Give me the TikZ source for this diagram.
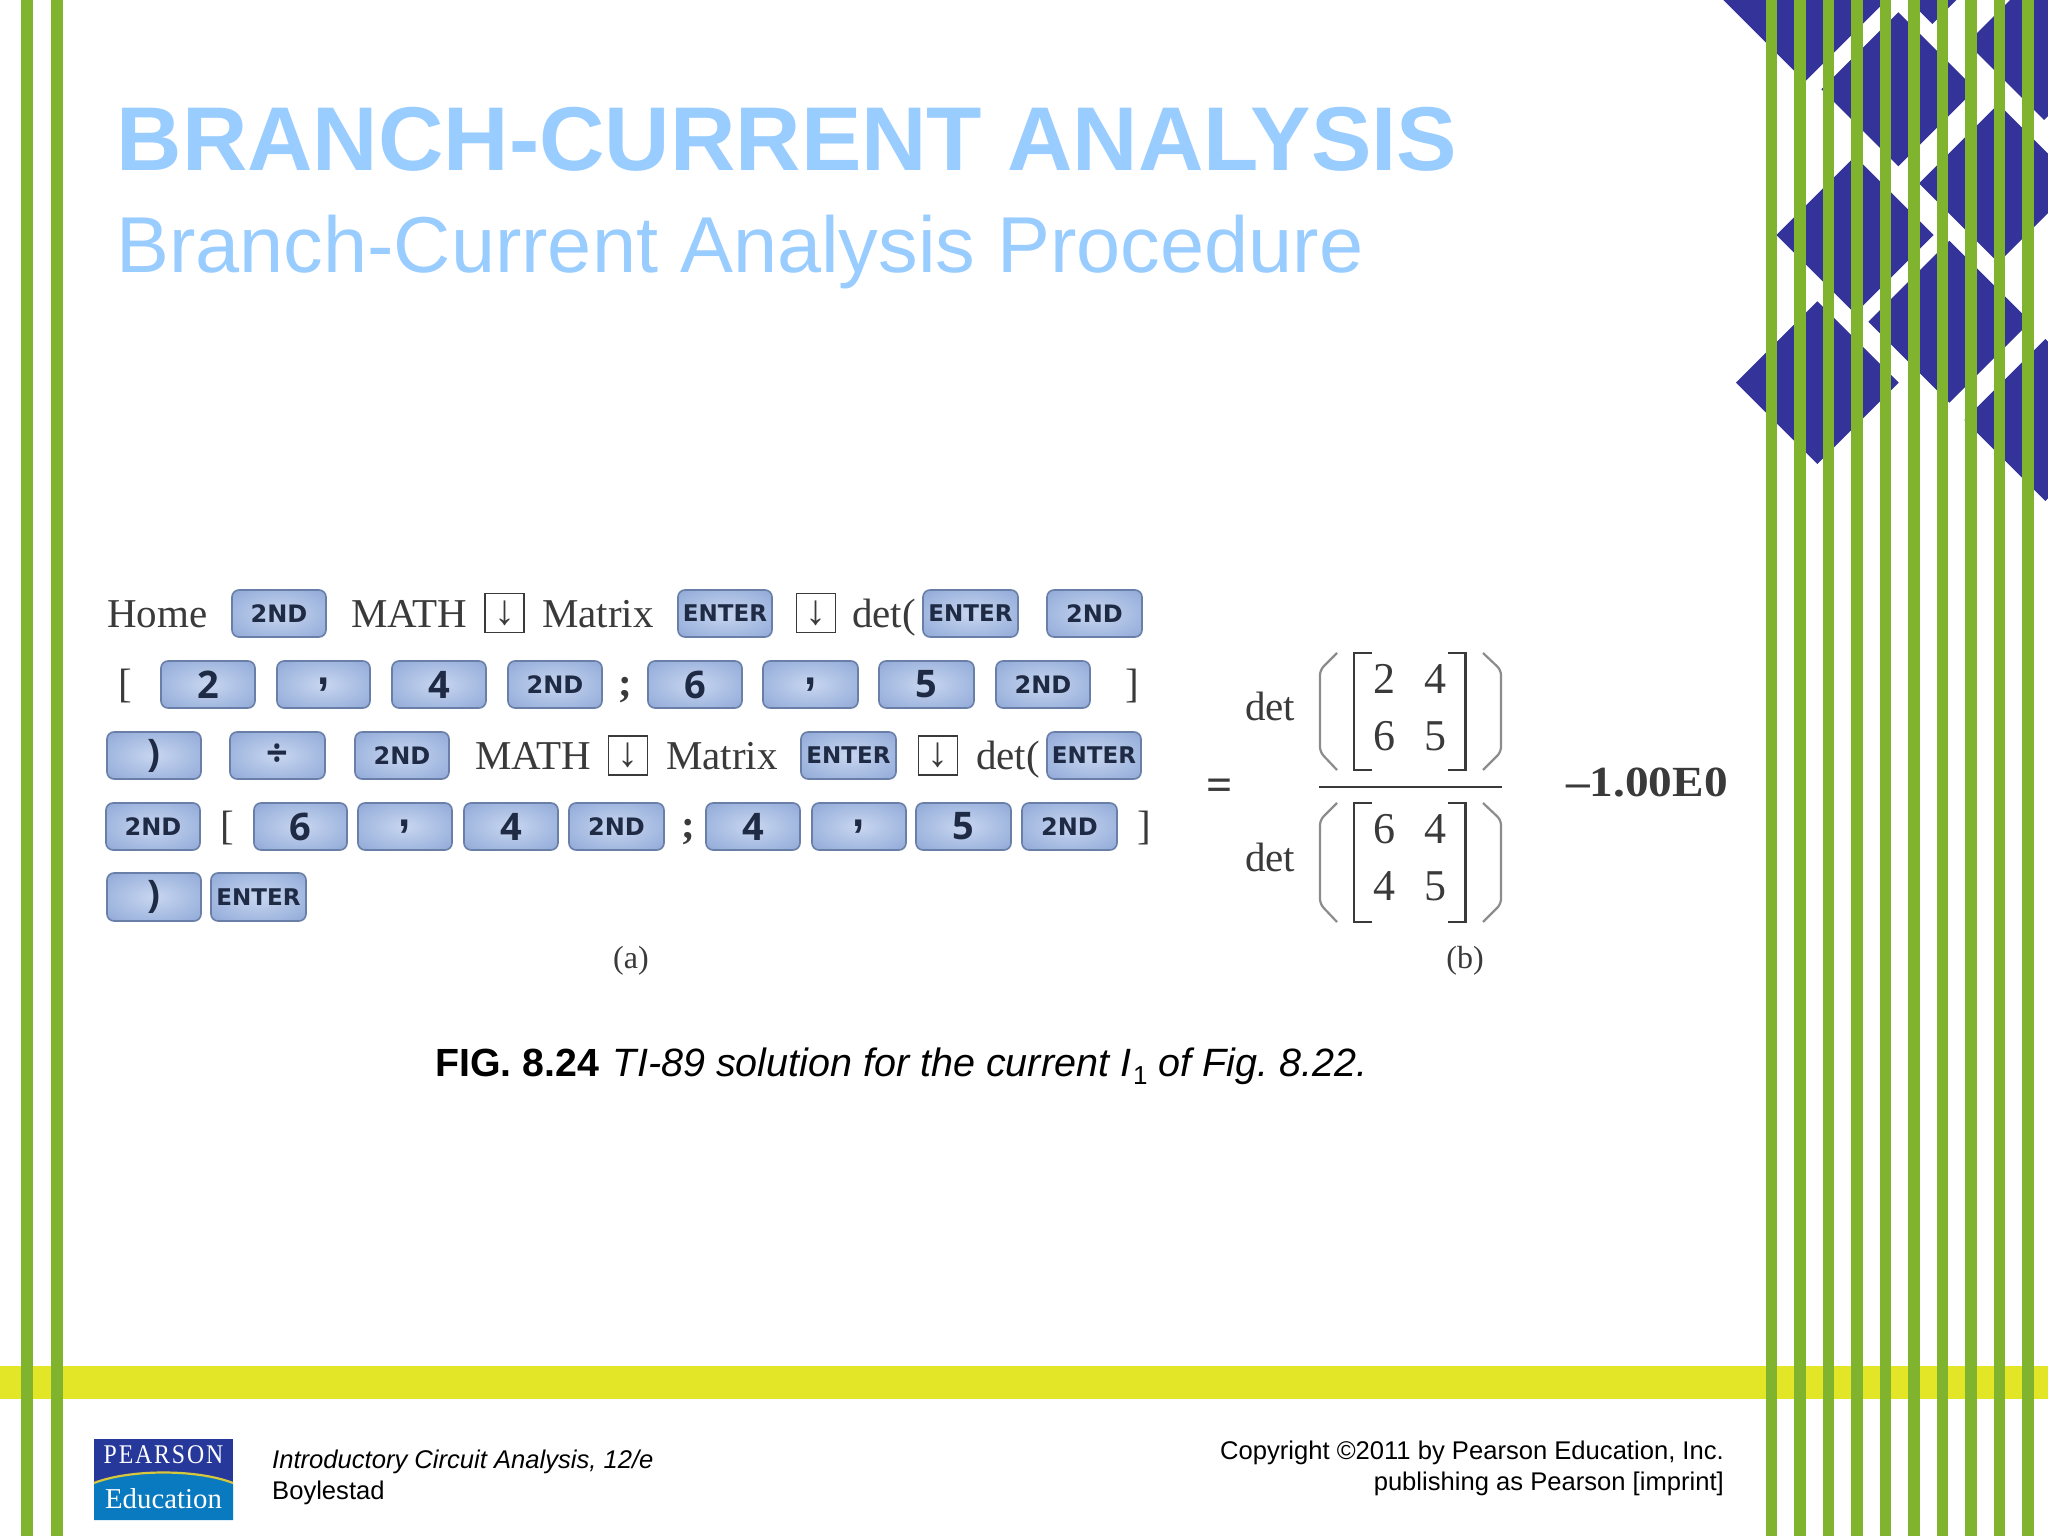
\documentclass[tikz,border=0pt]{standalone}
\usepackage{fontspec}
\setmainfont{Liberation Serif}
\newfontfamily\arial{Liberation Sans}
\newfontfamily\keyfont{DejaVu Sans}
\newfontfamily\digfont{Open Sans}
\definecolor{grn}{HTML}{80B32E}
\definecolor{yel}{HTML}{E2E626}
\definecolor{dia}{HTML}{333399}
\definecolor{ttl}{HTML}{99CCFF}
\definecolor{ink}{HTML}{3A3A3A}
\definecolor{keyin}{HTML}{C8D6F0}
\definecolor{keymid}{HTML}{9CB3DD}
\definecolor{keyout}{HTML}{7490C4}
\definecolor{keyedge}{HTML}{6A7FA8}
\definecolor{keytxt}{HTML}{1F2A44}
\definecolor{logoblue}{HTML}{27389B}
\definecolor{logosky}{HTML}{0A7AC0}
\definecolor{logoarc}{HTML}{D6C83C}
\pgfdeclareradialshading{keyshade}{\pgfpoint{0bp}{0bp}}{color(0bp)=(keyin); color(28bp)=(keymid); color(50bp)=(keyout)}
\newcommand{\fs}[1]{\fontsize{#1}{#1}\selectfont}
\tikzset{
  x=1pt,y=-1pt,
  stripe/.style={fill=grn,draw=none},
  diamondshape/.style={fill=dia,draw=none},
  keybase/.style={rounded corners=7pt,draw=keyedge,line width=1.6pt,shade,shading=keyshade,text=keytxt,
     inner sep=0pt,anchor=center},
  lbl/.style={inner sep=0pt,anchor=base west,text=ink,font=\fs{41}},
  lblc/.style={inner sep=0pt,anchor=base,text=ink,font=\fs{41}},
  arrowbox/.style={draw=ink,line width=1.3pt,inner sep=0pt,minimum width=39pt,minimum height=39pt,fill=white,text=ink,font=\fs{42},anchor=center},
  parenline/.style={draw=gray!90,line width=2.2pt,rounded corners=5pt},
  brack/.style={draw=ink,line width=2.2pt},
  ftxt/.style={inner sep=0pt,text=black,font=\arial\fs{25.6}},
}
% key: name, x0, x1, y0, y1, label
\newcommand{\keycap}[6]{\node[keybase,minimum width=#3pt-#2pt,minimum height=#5pt-#4pt] (#1) at ({(#2+#3)/2},{(#4+#5)/2}) {#6};}
\newcommand{\tnd}{\keyfont\bfseries\fs{24}2ND}
\newcommand{\ent}{\keyfont\bfseries\fs{23}ENTER}
\newcommand{\dg}[1]{\digfont\bfseries\fs{38}#1}
\newcommand{\cm}{\arial\bfseries\fs{44},}
\newcommand{\dm}[3]{\fill[diamondshape] (#1-#3,#2) -- (#1,#2-#3) -- (#1+#3,#2) -- (#1,#2+#3) -- cycle;}
\begin{document}
\begin{tikzpicture}
\useasboundingbox (0,0) rectangle (2048,1536);
\fill[white] (0,0) rectangle (2048,1536);
% diamonds
\begin{scope}
\clip (0,0) rectangle (2048,1536);
\begin{scope}[shift={(1700pt,0pt)},x=0.33333pt,y=-0.33333pt]
\dm{315}{0}{245}
\dm{595}{268}{231}
\dm{697}{-158}{230}
\dm{1032}{129}{231}
\dm{895}{550}{238}
\dm{465}{705}{236}
\dm{748}{965}{243}
\dm{352}{1148}{244}
\dm{1036}{1260}{243}
\end{scope}
\end{scope}
% band and stripes
\fill[yel] (0,1366) rectangle (2048,1399);
\foreach \a in {21,51,1765.5,1794,1822.5,1851,1879.5,1908,1936.5,1965,1993.5,2022}
  \fill[stripe] (\a,0) rectangle (\a+11.5,1536);
% titles
\node[inner sep=0pt,anchor=base west,text=ttl,font=\arial\bfseries\fs{90.6}] (title) at (116.5,171) {BRANCH-CURRENT ANALYSIS};
\node[inner sep=0pt,anchor=base west,text=ttl,font=\arial\fs{79.3}] (subtitle) at (116,272) {Branch-Current Analysis Procedure};
% row 1
\node[lbl] (home) at (107,627) {Home};
\keycap{k1a}{232}{326}{590}{637}{\tnd}
\node[lbl] (math1) at (351,627) {MATH};
\node[arrowbox] (dn1) at (504.5,613) {↓};
\node[lbl] (mat1) at (542,627) {Matrix};
\keycap{k1b}{678}{772}{590}{637}{\ent}
\node[arrowbox] (dn2) at (816,613) {↓};
\node[lbl] (det1) at (852,627) {det(};
\keycap{k1c}{923}{1018}{590}{637}{\ent}
\keycap{k1d}{1047}{1142}{590}{637}{\tnd}
% row 2
\node[lblc] (br2a) at (125,697) {[};
\keycap{k2a}{161}{255}{661}{708}{\dg{2}}
\keycap{k2b}{277}{370}{661}{708}{\cm}
\keycap{k2c}{392}{486}{661}{708}{\dg{4}}
\keycap{k2d}{508}{602}{661}{708}{\tnd}
\node[lblc,font=\bfseries\fs{41}] (sc2) at (625,696) {;};
\keycap{k2e}{648}{742}{661}{708}{\dg{6}}
\keycap{k2f}{763}{858}{661}{708}{\cm}
\keycap{k2g}{879}{974}{661}{708}{\dg{5}}
\keycap{k2h}{996}{1090}{661}{708}{\tnd}
\node[lblc] (br2b) at (1132,697) {]};
% row 3
\keycap{k3a}{107}{201}{732}{779}{\dg{)}}
\keycap{k3b}{230}{325}{732}{779}{\dg{÷}}
\keycap{k3c}{355}{449}{732}{779}{\tnd}
\node[lbl] (math2) at (475,769) {MATH};
\node[arrowbox] (dn3) at (628,755.5) {↓};
\node[lbl] (mat2) at (666,769) {Matrix};
\keycap{k3d}{801}{896}{732}{779}{\ent}
\node[arrowbox] (dn4) at (938,755.5) {↓};
\node[lbl] (det2) at (976,769) {det(};
\keycap{k3e}{1047}{1141}{732}{779}{\ent}
% row 4
\keycap{k4a}{106}{200}{803}{850}{\tnd}
\node[lblc] (br4a) at (227,839) {[};
\keycap{k4b}{254}{347}{803}{850}{\dg{6}}
\keycap{k4c}{358}{452}{803}{850}{\cm}
\keycap{k4d}{464}{558}{803}{850}{\dg{4}}
\keycap{k4e}{569}{664}{803}{850}{\tnd}
\node[lblc,font=\bfseries\fs{41}] (sc4) at (688,838) {;};
\keycap{k4f}{706}{800}{803}{850}{\dg{4}}
\keycap{k4g}{812}{906}{803}{850}{\cm}
\keycap{k4h}{916}{1011}{803}{850}{\dg{5}}
\keycap{k4i}{1022}{1117}{803}{850}{\tnd}
\node[lblc] (br4b) at (1144,839) {]};
% row 5
\keycap{k5a}{107}{201}{873}{921}{\dg{)}}
\keycap{k5b}{211}{306}{873}{921}{\ent}
\node[lblc,font=\fs{32}] (capa) at (631,968) {(a)};
\node[lblc,font=\fs{32}] (capb) at (1465,968) {(b)};
% formula
\node[lblc,font=\bfseries\fs{46}] (eq) at (1220,800) {=};
\node[lbl] (dett) at (1245,720) {det};
\node[lbl] (detb) at (1245,871) {det};
\foreach \ya/\yb/\yc/\yd in {653/670/752/770,803/820/904/922}{
  \draw[parenline] (1337,\ya) -- (1320,\yb) -- (1320,\yc) -- (1337,\yd);
  \draw[parenline] (1483,\ya) -- (1501,\yb) -- (1501,\yc) -- (1483,\yd);
  \draw[brack] (1372,\ya) -- (1354,\ya) -- (1354,\yd) -- (1372,\yd);
  \draw[brack] (1448,\ya) -- (1465.5,\ya) -- (1465.5,\yd) -- (1448,\yd);
}
\node[lblc,font=\fs{44}] (m11) at (1384,693) {2};
\node[lblc,font=\fs{44}] (m12) at (1435,693) {4};
\node[lblc,font=\fs{44}] (m21) at (1384,750) {6};
\node[lblc,font=\fs{44}] (m22) at (1435,750) {5};
\node[lblc,font=\fs{44}] (n11) at (1384,843) {6};
\node[lblc,font=\fs{44}] (n12) at (1435,843) {4};
\node[lblc,font=\fs{44}] (n21) at (1384,900) {4};
\node[lblc,font=\fs{44}] (n22) at (1435,900) {5};
\coordinate (fa) at (1319,787);
\coordinate (fb) at (1502,787);
\draw[draw=ink,line width=2.4pt] (fa) -- (fb);
\node[lbl,font=\bfseries\fs{43}] (res) at (1566,796) {\scalebox{1.1}[1]{–1.00E0}};
% caption
\node[inner sep=0pt,anchor=base west,text=black,font=\arial\fs{39.3}] (cap) at (435,1076) {\frenchspacing\textbf{FIG. 8.24}\hspace{3pt} \fs{39.5}\textit{TI-89 solution for the current I\kern2pt\raisebox{-8pt}{\textup{\fs{26}1}} of Fig. 8.22.}};
% footer
\node[ftxt,anchor=base west] (ft1) at (272,1468) {\textit{Introductory Circuit Analysis, 12/e}};
\node[ftxt,anchor=base west] (ft2) at (272,1499) {Boylestad};
\node[ftxt,anchor=base east] (ft3) at (1724,1459) {Copyright ©2011 by Pearson Education, Inc.};
\node[ftxt,anchor=base east] (ft4) at (1724,1490) {publishing as Pearson [imprint]};
% logo
\fill[logoblue] (94,1439) rectangle (233,1484);
\fill[logosky] (94,1484) .. controls (130,1470) and (197,1470) .. (233,1484) -- (233,1520) -- (94,1520) -- cycle;
\draw[logoarc,line width=2.2pt] (94,1483) .. controls (130,1469) and (197,1469) .. (233,1483);
\node[inner sep=0pt,anchor=base,text=white,font=\fs{27}] (lg1) at (163.5,1463) {\scalebox{.88}[1]{\addfontfeature{LetterSpace=8}PEARSON}};
\node[inner sep=0pt,anchor=base,text=white,font=\fs{28.8}] (lg2) at (163.5,1508) {Education};
\end{tikzpicture}
\end{document}
